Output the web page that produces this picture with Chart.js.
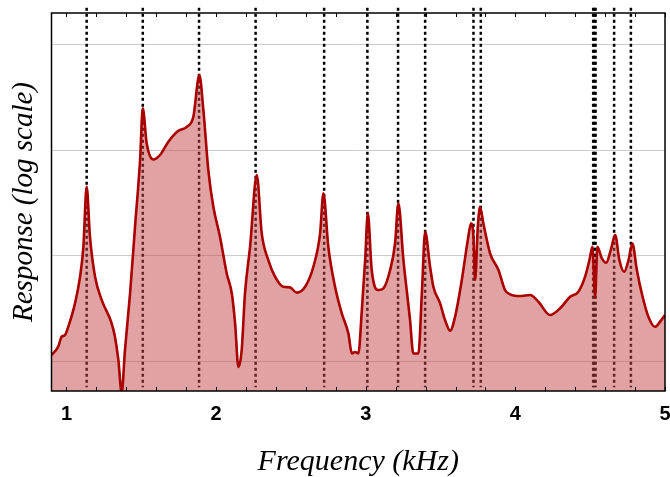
<!DOCTYPE html>
<html>
<head>
<meta charset="utf-8">
<script src="https://cdn.jsdelivr.net/npm/chart.js@4.4.1/dist/chart.umd.min.js"></script>
<style>
  html, body { margin: 0; padding: 0; background: #ffffff; }
  #wrap { width: 670px; height: 477px; }
</style>
</head>
<body>
<div id="wrap"><canvas id="c" width="670" height="477"></canvas></div>
<script>
// Frequency (kHz) of traced points
const freqs = [
  0.901, 0.945, 0.968, 0.990, 1.012, 1.057, 1.091, 1.113, 1.135, 1.157,
  1.191, 1.236, 1.302, 1.324, 1.347, 1.369, 1.391, 1.425, 1.458, 1.492,
  1.510, 1.536, 1.580, 1.625, 1.681, 1.748, 1.804, 1.848, 1.888, 1.915,
  1.948, 1.982, 2.026, 2.071, 2.105, 2.127, 2.149, 2.171, 2.193, 2.227,
  2.272, 2.305, 2.349, 2.394, 2.449, 2.494, 2.539, 2.595, 2.650, 2.695,
  2.717, 2.750, 2.795, 2.840, 2.884, 2.907, 2.929, 2.951, 2.974, 2.996,
  3.014, 3.040, 3.085, 3.118, 3.163, 3.196, 3.218, 3.252, 3.296, 3.318,
  3.352, 3.375, 3.397, 3.430, 3.452, 3.497, 3.530, 3.564, 3.597, 3.642,
  3.682, 3.704, 3.720, 3.731, 3.749, 3.764, 3.786, 3.831, 3.887, 3.931,
  3.965, 4.032, 4.099, 4.154, 4.232, 4.299, 4.366, 4.421, 4.466, 4.495,
  4.515, 4.533, 4.548, 4.578, 4.607, 4.638, 4.667, 4.695, 4.727, 4.756,
  4.782, 4.812, 4.845, 4.889, 4.933, 4.967, 5.000
];
// Response (log scale axis)
const response = [
  1.14, 1.37, 1.70, 1.76, 2.11, 3.52, 6.31, 12.1, 44.9, 15.1,
  6.31, 3.78, 2.28, 1.70, 1.02, 0.50, 1.27, 4.37, 18.6, 80.4,
  248, 116, 81.3, 89.7, 120, 152, 166, 207, 513, 240,
  64.6, 28.8, 15.1, 6.76, 4.37, 2.28, 0.88, 1.27, 4.37, 12.1,
  57.9, 16.2, 9.06, 6.31, 5.06, 4.99, 4.45, 5.06, 7.83, 16.2,
  38.9, 12.1, 5.06, 2.83, 1.83, 1.18, 1.22, 1.18, 3.04, 9.06,
  25.1, 7.29, 4.71, 4.89, 7.29, 13.0, 31.3, 9.06, 2.45, 1.18,
  1.18, 4.37, 16.8, 7.83, 5.06, 3.52, 2.45, 1.94, 2.63, 5.86,
  14.0, 20.2, 15.1, 5.86, 18.7, 29.0, 20.2, 10.5, 7.29, 4.71,
  4.29, 4.13, 4.23, 3.65, 2.73, 3.16, 4.07, 4.54, 6.31, 9.06,
  12.1, 4.07, 12.1, 9.40, 8.55, 11.3, 15.6, 9.06, 7.01, 9.06,
  13.0, 7.29, 4.37, 2.63, 2.11, 2.36, 2.73
];
// Resonance frequencies (dashed lines), kHz
const resonances = [1.135, 1.510, 1.886, 2.264, 2.722, 3.011, 3.216, 3.397,
                     3.720, 3.769, 4.520, 4.528, 4.536, 4.660, 4.772];
// Tick labels / grid levels
const xTickValues = [1, 2, 3, 4, 5];
const yGridValues = [1, 10, 100, 1000];
const xMinorStep = 0.2;

const X_MIN = 0.9, X_MAX = 5.0;
const Y_MIN = 0.52, Y_MAX = 1990;

const curvePoints = freqs.map((f, i) => ({ x: f, y: response[i] }));

const dashSets = resonances.map(f => ({
  type: 'line',
  data: [{ x: f, y: 2230 }, { x: f, y: 0.565 }],
  borderColor: '#000000',
  borderWidth: 2.5,
  borderDash: [3, 3],
  pointRadius: 0,
  fill: false,
  tension: 0,
  clip: { left: 2, top: 8, right: 2, bottom: 0 },
  order: 2
}));

const framePlugin = {
  id: 'frame',
  afterDraw(chart) {
    const { ctx, chartArea: a, scales } = chart;
    const xs = scales.x;
    ctx.save();
    ctx.strokeStyle = '#000';
    ctx.lineWidth = 1;
    const n = Math.round((X_MAX - 1) / xMinorStep);
    for (let i = 0; i <= n; i++) {
      const v = 1 + i * xMinorStep;
      const px = Math.round(xs.getPixelForValue(v)) + 0.5;
      ctx.beginPath();
      ctx.moveTo(px, a.bottom); ctx.lineTo(px, a.bottom - 4);
      ctx.moveTo(px, a.top); ctx.lineTo(px, a.top + 4);
      ctx.stroke();
    }
    ctx.lineWidth = 1.5;
    ctx.strokeRect(a.left, a.top, a.right - a.left, a.bottom - a.top);
    ctx.restore();
  }
};

new Chart(document.getElementById('c'), {
  type: 'line',
  data: {
    datasets: [
      {
        data: curvePoints,
        borderColor: '#aa0000',
        borderWidth: 2.6,
        backgroundColor: 'rgba(193,69,69,0.5)',
        fill: 'start',
        pointRadius: 0,
        cubicInterpolationMode: 'monotone',
        clip: 0,
        order: 1
      },
      ...dashSets
    ]
  },
  options: {
    responsive: false,
    animation: false,
    devicePixelRatio: 1,
    layout: { padding: { left: 0, right: 5, top: 13, bottom: 0 } },
    plugins: { legend: { display: false }, tooltip: { enabled: false } },
    scales: {
      x: {
        type: 'linear',
        min: X_MIN,
        max: X_MAX,
        afterBuildTicks: s => { s.ticks = xTickValues.map(v => ({ value: v })); },
        afterFit: s => { s.height = 86; s.paddingLeft = 0; s.paddingRight = 0; },
        grid: { display: false, drawTicks: false },
        border: { display: false },
        ticks: {
          color: '#000',
          padding: 11,
          font: { family: '"Liberation Sans", Arial, sans-serif', size: 20, weight: 'bold' },
          callback: v => String(v)
        },
        title: {
          display: true,
          text: 'Frequency (kHz)',
          color: '#000',
          font: { family: '"Liberation Serif", "Times New Roman", serif', size: 30, style: 'italic', lineHeight: 1 },
          padding: { top: 0, bottom: 0 }
        }
      },
      y: {
        type: 'logarithmic',
        min: Y_MIN,
        max: Y_MAX,
        afterBuildTicks: s => { s.ticks = yGridValues.map(v => ({ value: v })); },
        afterFit: s => { s.width = 51.5; },
        grid: { color: '#cccccc', lineWidth: 1, drawTicks: false },
        border: { display: false },
        ticks: { display: false },
        title: {
          display: true,
          text: 'Response (log scale)',
          color: '#000',
          font: { family: '"Liberation Serif", "Times New Roman", serif', size: 29, style: 'italic', lineHeight: 1 },
          padding: { top: 10, bottom: 0 }
        }
      }
    }
  },
  plugins: [framePlugin]
});
</script>
</body>
</html>
